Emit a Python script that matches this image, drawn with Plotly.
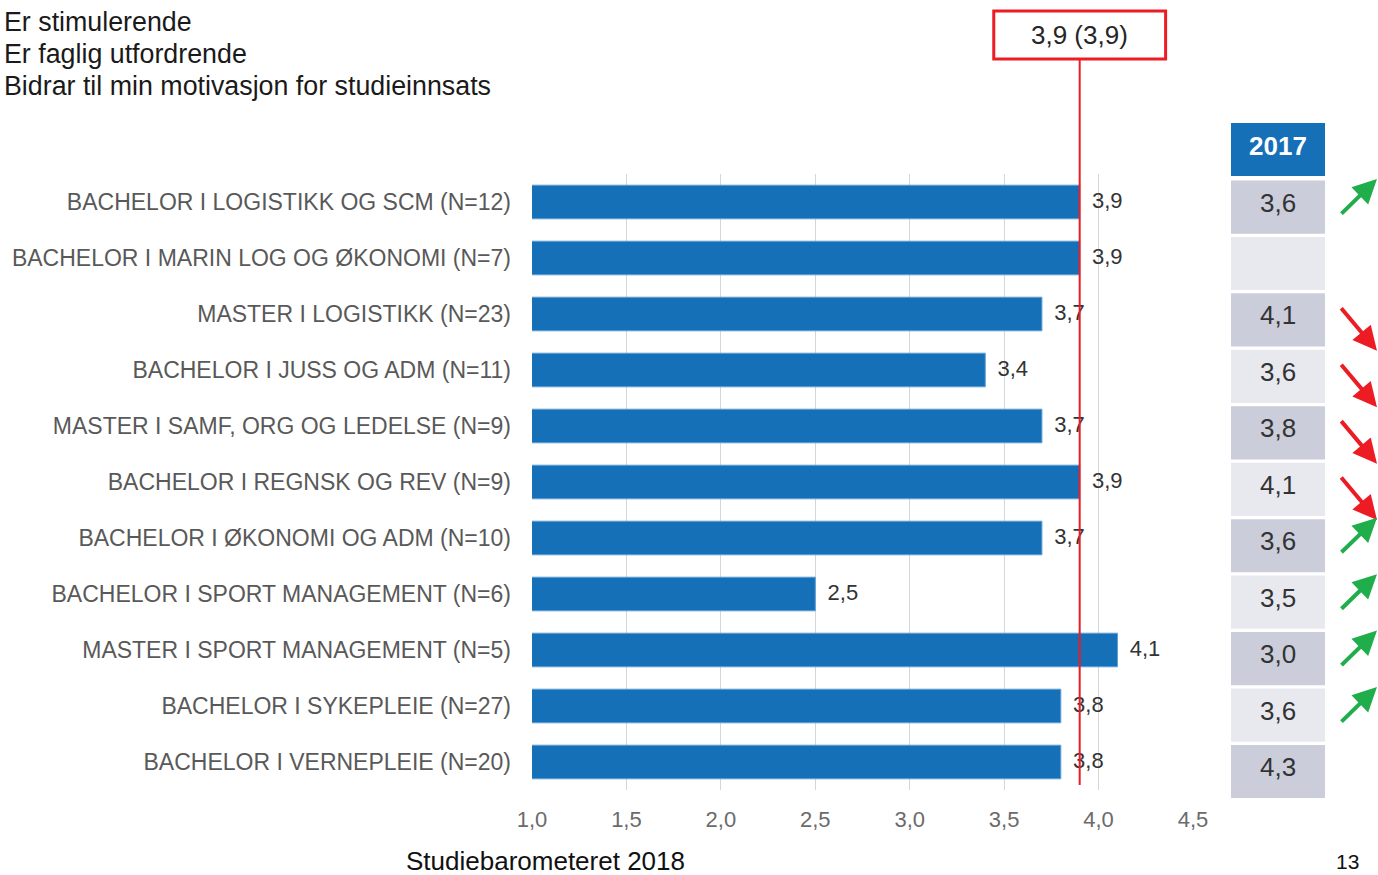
import plotly.graph_objects as go

# ---------------- data ----------------
programs = [
    "BACHELOR I LOGISTIKK OG SCM (N=12)",
    "BACHELOR I MARIN LOG OG ØKONOMI (N=7)",
    "MASTER I LOGISTIKK (N=23)",
    "BACHELOR I JUSS OG ADM (N=11)",
    "MASTER I SAMF, ORG OG LEDELSE (N=9)",
    "BACHELOR I REGNSK OG REV (N=9)",
    "BACHELOR I ØKONOMI OG ADM (N=10)",
    "BACHELOR I SPORT MANAGEMENT (N=6)",
    "MASTER I SPORT MANAGEMENT (N=5)",
    "BACHELOR I SYKEPLEIE (N=27)",
    "BACHELOR I VERNEPLEIE (N=20)",
]
scores_2018 = [3.9, 3.9, 3.7, 3.4, 3.7, 3.9, 3.7, 2.5, 4.1, 3.8, 3.8]
scores_2017 = [3.6, None, 4.1, 3.6, 3.8, 4.1, 3.6, 3.5, 3.0, 3.6, 4.3]
trend = ["up", None, "down", "down", "down", "down", "up", "up", "up", "up", "down"]
avg_2018 = 3.9
avg_2017 = 3.9
title_lines = ["Er stimulerende", "Er faglig utfordrende",
               "Bidrar til min motivasjon for studieinnsats"]
table_header = "2017"
x_ticks = [1.0, 1.5, 2.0, 2.5, 3.0, 3.5, 4.0, 4.5]
footer = "Studiebarometeret 2018"
page_no = "13"

# ---------------- layout helpers ----------------
W, H = 1378, 875
L, R, T, B = 532, 1193, 174, 790
N = len(programs)
Y_RANGE = [N - 0.5, -0.5]


def px(xp):
    return (xp - L) / (R - L)


def py(yp):
    return (B - yp) / (B - T)


def row_paper(c):
    # category index -> paper y, following the y axis range
    return 1 - (c - Y_RANGE[1]) / (Y_RANGE[0] - Y_RANGE[1])


FONT = "Liberation Sans, Arial, sans-serif"
BLUE = "#1570b8"
RED = "#ed1c24"
GREEN = "#1fae4b"

fig = go.Figure()
fig.add_trace(go.Bar(
    y=programs, x=scores_2018, orientation="h",
    marker=dict(color=BLUE, line=dict(color="#5c9fd6", width=1)),
    hoverinfo="skip",
))
fig.add_trace(go.Scatter(
    y=programs, x=scores_2018, mode="markers+text",
    marker=dict(size=18, opacity=0),
    text=[f"{v:.1f}".replace(".", ",") for v in scores_2018],
    textposition="middle right",
    textfont=dict(size=22, color="#333333", family=FONT),
    cliponaxis=False, hoverinfo="skip",
))

shapes = []
annotations = []

# average line and box
shapes.append(dict(type="line", xref="x", yref="paper", x0=avg_2018, x1=avg_2018,
                   y0=py(785), y1=py(59), line=dict(color=RED, width=2)))
shapes.append(dict(type="rect", xref="x", yref="paper",
                   x0=avg_2018 - 0.455, x1=avg_2018 + 0.455,
                   y0=py(59), y1=py(11), line=dict(color=RED, width=3),
                   fillcolor="white"))
annotations.append(dict(xref="x", yref="paper", x=avg_2018, y=py(35),
                        text=f"{avg_2018:.1f} ({avg_2017:.1f})".replace(".", ","),
                        showarrow=False, xanchor="center", yanchor="middle",
                        font=dict(size=26, color="#262626", family=FONT)))

# table
cx0, cx1 = px(1231), px(1325)
cxm = (cx0 + cx1) / 2
shapes.append(dict(type="rect", xref="paper", yref="paper", x0=cx0, x1=cx1,
                   y0=py(176), y1=py(123), fillcolor=BLUE, line=dict(width=0)))
annotations.append(dict(xref="paper", yref="paper", x=cxm, y=py(146),
                        text=f"<b>{table_header}</b>", showarrow=False,
                        xanchor="center", yanchor="middle",
                        font=dict(size=26, color="white", family=FONT)))
for i, (v, t) in enumerate(zip(scores_2017, trend)):
    c = 0.09 + i * 1.008
    shapes.append(dict(type="rect", xref="paper", yref="paper", x0=cx0, x1=cx1,
                       y0=row_paper(c + 0.475), y1=row_paper(c - 0.475),
                       fillcolor="#cbcdda" if i % 2 == 0 else "#e8e9ef",
                       line=dict(width=0), layer="above"))
    if v is not None:
        annotations.append(dict(xref="paper", yref="paper", x=cxm, y=row_paper(c - 0.08),
                                text=f"{v:.1f}".replace(".", ","), showarrow=False,
                                xanchor="center", yanchor="middle",
                                font=dict(size=26, color="#333333", family=FONT)))
    if t == "up":
        annotations.append(dict(xref="paper", yref="y", x=px(1394), y=c - 0.5,
                                ax=-54, ay=36, text="", showarrow=True,
                                arrowhead=2, arrowsize=1.2, arrowwidth=4,
                                arrowcolor=GREEN))
    elif t == "down":
        annotations.append(dict(xref="paper", yref="y", x=px(1394), y=c + 0.55,
                                ax=-54, ay=-44, text="", showarrow=True,
                                arrowhead=2, arrowsize=1.2, arrowwidth=4,
                                arrowcolor=RED))

# title lines
for k, line in enumerate(title_lines):
    annotations.append(dict(xref="paper", yref="paper", x=px(2), y=py(22 + 32 * k),
                            text=line, showarrow=False, xanchor="left",
                            yanchor="middle",
                            font=dict(size=26.8, color="#1a1a1a", family=FONT)))

annotations.append(dict(xref="paper", yref="paper", x=px(545), y=py(861),
                        text=footer, showarrow=False, xanchor="center",
                        yanchor="middle", font=dict(size=26, color="#111111", family=FONT)))
annotations.append(dict(xref="paper", yref="paper", x=px(1347), y=py(861),
                        text=page_no, showarrow=False, xanchor="center",
                        yanchor="middle", font=dict(size=21, color="#111111", family=FONT)))

fig.update_layout(
    width=W, height=H,
    margin=dict(l=L, r=W - R, t=T, b=H - B, pad=0),
    paper_bgcolor="white", plot_bgcolor="white",
    showlegend=False, bargap=0.4,
    separators=", ",
    font=dict(family=FONT),
    xaxis=dict(range=[1.0, 4.5], tickvals=x_ticks, tickformat=".1f",
               showgrid=True, gridcolor="#d6d6d6", gridwidth=1,
               zeroline=False, showline=False, ticks="",
               ticklabelstandoff=14,
               tickfont=dict(size=22, color="#6b6b6b", family=FONT)),
    yaxis=dict(categoryorder="array", categoryarray=programs,
               range=Y_RANGE, showgrid=False, zeroline=False,
               showline=False, ticks="", ticklabelstandoff=20,
               tickfont=dict(size=23, color="#595959", family=FONT)),
    shapes=shapes, annotations=annotations,
)

fig.write_html("out.html", config={"displayModeBar": False})

# remove the browser's default page margin so the figure fills the window
with open("out.html", encoding="utf-8") as f:
    html = f.read()
html = html.replace("<head>", "<head><style>html,body{margin:0;padding:0;overflow:hidden;}</style>", 1)
with open("out.html", "w", encoding="utf-8") as f:
    f.write(html)
